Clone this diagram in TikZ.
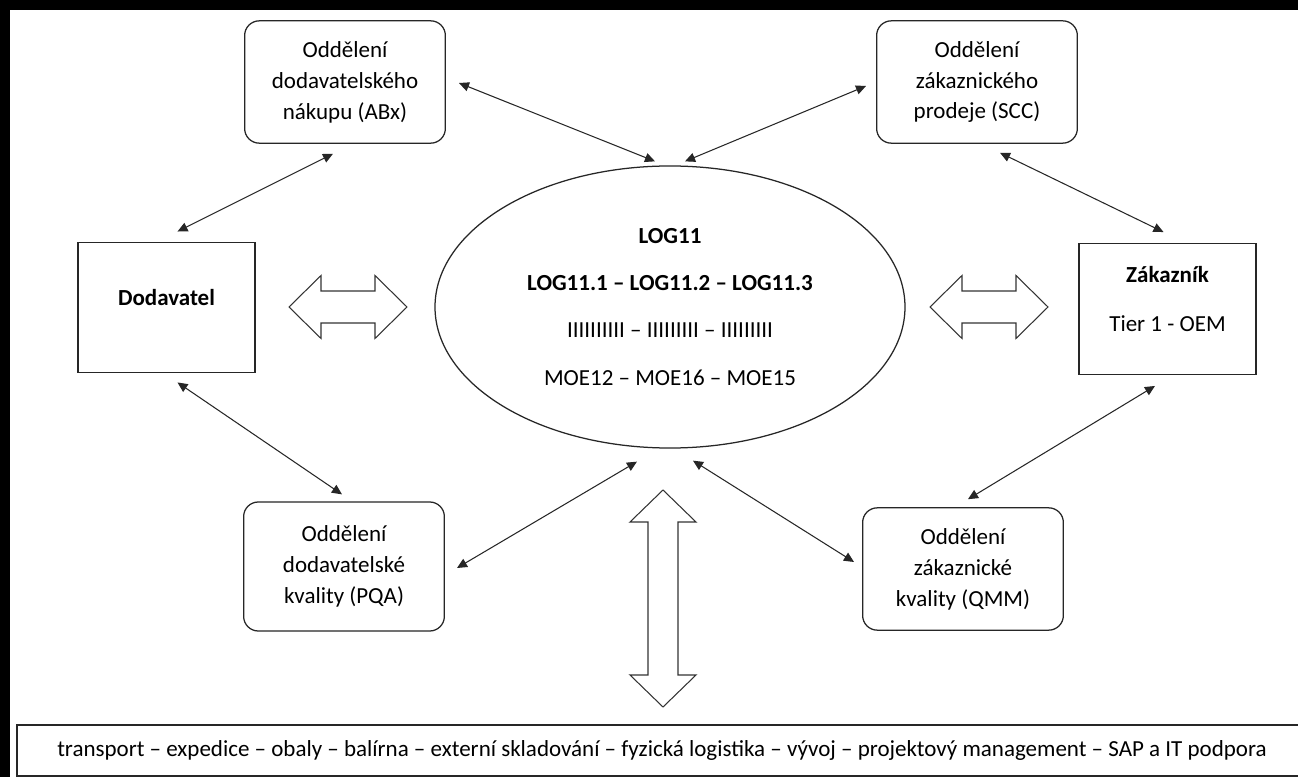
\documentclass[tikz,border=0pt]{standalone}
\usepackage{fontspec}
\setmainfont{Carlito}
\usetikzlibrary{arrows.meta,calc,shapes.geometric}

\begin{document}
\begin{tikzpicture}[x=0.4783pt, y=-0.4783pt,
    dept/.style={draw=black!85, rounded corners=7pt, line width=0.6pt, align=center,
        minimum width=96pt, minimum height=58.5pt, font=\fontsize{11pt}{14.8pt}\selectfont},
    party/.style={draw=black!85, line width=0.6pt, align=center, minimum width=84.7pt,
        minimum height=62.5pt, text depth=9.6pt, font=\fontsize{11pt}{23pt}\selectfont},
    link/.style={{Triangle[length=4.8pt,width=4.4pt]}-{Triangle[length=4.8pt,width=4.4pt]},
        draw=black!85, line width=0.5pt},
    flow/.style={draw=black!80, fill=white, line width=0.5pt}]
    \useasboundingbox (0,0) rectangle (1298,777);
    \clip (0,0) rectangle (1298,777);
    \fill[black] (0,0) rectangle (1298,777);
    \fill[white] (10,10) rectangle (1298,777);

    % LOG11 in the middle
    \node[draw=black!85, ellipse, line width=0.6pt, minimum width=224.8pt, minimum height=134.9pt,
        align=center, font=\fontsize{11pt}{22.5pt}\selectfont] (log) at (670,307)
        {\textbf{LOG11}\\ \textbf{LOG11.1 – LOG11.2 – LOG11.3}\\
         IIIIIIIIII – IIIIIIIII – IIIIIIIII\\ MOE12 – MOE16 – MOE15};

    % supplier and customer
    \node[party] (dod) at (166.5,307.5) {\textbf{Dodavatel}};
    \node[party] (zak) at (1167.5,309) {\textbf{Zákazník}\\ Tier 1 - OEM};

    % departments
    \node[dept] (abx) at (345,82) {Oddělení\\ dodavatelského\\ nákupu (ABx)};
    \node[dept] (scc) at (977,82) {Oddělení\\ zákaznického\\ prodeje (SCC)};
    \node[dept, minimum height=61.7pt] (pqa) at (344,566.5) {Oddělení\\ dodavatelské\\ kvality (PQA)};
    \node[dept] (qmm) at (963,569) {Oddělení\\ zákaznické\\ kvality (QMM)};

    \node[draw=black!85, line width=0.6pt, minimum width=617pt, minimum height=24.4pt,
        font=\fontsize{11pt}{13pt}\selectfont] (tasks) at (662,750.5)
        {transport – expedice – obaly – balírna – externí skladování – fyzická logistika – vývoj – projektový management – SAP a IT podpora};

    \draw[link] ($(abx.south)+(-12,10)$) -- ($(dod.north)+(11,-10)$);
    \draw[link] ($(abx.east)+(13,1)$) -- ($(log.north)+(-15,-4)$);
    \draw[link] ($(log.north)+(15,-4)$) -- ($(scc.west)+(-10,4)$);
    \draw[link] ($(scc.south)+(23,9)$) -- ($(zak.north)+(-4,-11)$);
    \draw[link] ($(dod.south)+(11,9)$) -- ($(pqa.north)+(-2,-7)$);
    \draw[link] ($(pqa.east)+(12,1.5)$) -- ($(log.south)+(-33,13)$);
    \draw[link] ($(log.south)+(23,12)$) -- ($(qmm.west)+(-8,-7)$);
    \draw[link] ($(zak.south)+(-12.5,11)$) -- ($(qmm.north)+(5,-8)$);

    % hollow double arrows
    \coordinate (lflow) at (348,307);
    \coordinate (rflow) at (989,307);
    \coordinate (vflow) at (663,598.5);
    \draw[flow, shift={(lflow)}] (-59,0) -- (-27,-31.5) -- (-27,-16) -- (27,-16) -- (27,-31.5) -- (59,0)
        -- (27,31.5) -- (27,16) -- (-27,16) -- (-27,31.5) -- cycle;
    \draw[flow, shift={(rflow)}] (-59,0) -- (-27,-31.5) -- (-27,-16) -- (27,-16) -- (27,-31.5) -- (59,0)
        -- (27,31.5) -- (27,16) -- (-27,16) -- (-27,31.5) -- cycle;
    \draw[flow, shift={(vflow)}] (0,-108.5) -- (33,-76.5) -- (15,-76.5) -- (15,76.5) -- (33,76.5) -- (0,108.5)
        -- (-33,76.5) -- (-15,76.5) -- (-15,-76.5) -- (-33,-76.5) -- cycle;
\end{tikzpicture}
\end{document}
